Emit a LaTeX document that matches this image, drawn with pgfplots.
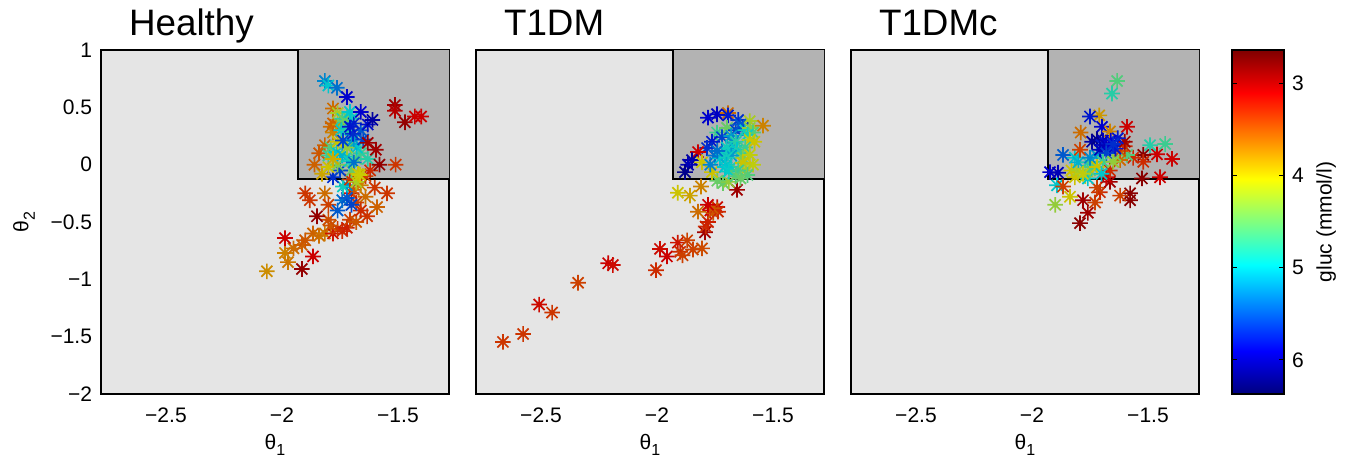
\documentclass[border=0pt]{standalone}
\usepackage{pgfplots}
\usepackage{pgfplotstable}
\pgfplotsset{compat=1.18}
\usepackage{fontspec}
\setmainfont{Liberation Sans}
\definecolor{bggray}{RGB}{229,229,229}
\definecolor{dkgray}{RGB}{179,179,179}
\pgfdeclareplotmark{mstar}{%
  \pgfpathmoveto{\pgfqpoint{-\pgfplotmarksize}{0pt}}%
  \pgfpathlineto{\pgfqpoint{\pgfplotmarksize}{0pt}}%
  \pgfpathmoveto{\pgfqpoint{0pt}{-\pgfplotmarksize}}%
  \pgfpathlineto{\pgfqpoint{0pt}{\pgfplotmarksize}}%
  \pgfpathmoveto{\pgfqpoint{-0.707\pgfplotmarksize}{-0.707\pgfplotmarksize}}%
  \pgfpathlineto{\pgfqpoint{0.707\pgfplotmarksize}{0.707\pgfplotmarksize}}%
  \pgfpathmoveto{\pgfqpoint{-0.707\pgfplotmarksize}{0.707\pgfplotmarksize}}%
  \pgfpathlineto{\pgfqpoint{0.707\pgfplotmarksize}{-0.707\pgfplotmarksize}}%
  \pgfusepathqstroke}

\pgfplotstableread{
x y g
-2.065 -0.93 3.75
-1.914 -0.91 2.85
-1.866 -0.80 3.1
-1.974 -0.85 3.65
-1.987 -0.77 3.7
-1.950 -0.73 3.6
-1.914 -0.70 3.55
-1.987 -0.64 3.1
-1.900 -0.66 3.5
-1.866 -0.60 3.55
-1.840 -0.62 3.6
-1.815 -0.60 3.65
-1.780 -0.60 3.2
-1.760 -0.56 3.35
-1.740 -0.58 3.3
-1.720 -0.55 3.25
-1.707 -0.48 3.4
-1.680 -0.50 3.5
-1.790 -0.53 3.5
-1.800 -0.48 3.45
-1.849 -0.45 2.85
-1.633 -0.45 3.35
-1.660 -0.40 3.3
-1.590 -0.37 3.55
-1.640 -0.28 3.6
-1.600 -0.20 3.35
-1.547 -0.25 3.35
-1.680 -0.33 3.4
-1.700 -0.25 3.2
-1.690 -0.22 3.5
-1.660 -0.18 3.7
-1.640 -0.10 3.4
-1.620 -0.05 3.3
-1.900 -0.25 3.35
-1.880 -0.31 3.35
-1.815 -0.25 3.6
-1.800 -0.35 3.4
-1.760 -0.40 5.5
-1.740 -0.31 5.4
-1.720 -0.29 5.5
-1.700 -0.35 5.6
-1.720 -0.18 5.3
-1.737 -0.19 4.9
-1.707 -0.13 3.35
-1.680 -0.15 4.2
-1.700 -0.05 4.5
-1.780 -0.11 5.7
-1.750 -0.05 5.6
-1.827 -0.08 3.85
-1.800 -0.02 4.0
-1.860 0.00 3.55
-1.840 0.10 3.5
-1.815 0.17 3.55
-1.790 0.15 4.6
-1.800 0.08 4.7
-1.760 0.00 4.4
-1.790 0.33 3.6
-1.780 0.28 3.7
-1.780 0.36 3.55
-1.780 0.49 3.6
-1.760 0.45 4.2
-1.750 0.35 3.8
-1.740 0.40 4.8
-1.720 0.42 4.6
-1.700 0.40 4.9
-1.730 0.38 4.5
-1.745 0.30 5.0
-1.720 0.30 4.8
-1.763 0.11 5.0
-1.720 0.07 4.9
-1.740 0.08 5.1
-1.710 0.03 4.9
-1.680 0.05 4.6
-1.660 0.10 4.7
-1.677 0.15 5.0
-1.700 0.18 5.1
-1.720 0.15 4.3
-1.760 0.20 4.0
-1.780 0.05 3.9
-1.690 0.02 5.4
-1.630 0.05 4.8
-1.737 0.21 5.6
-1.690 0.22 5.2
-1.650 0.22 5.6
-1.660 0.30 5.5
-1.694 0.27 5.7
-1.690 0.36 5.75
-1.707 0.33 5.8
-1.707 0.46 5.0
-1.660 0.46 5.9
-1.630 0.35 5.85
-1.610 0.39 6.1
-1.815 0.73 5.3
-1.800 0.69 5.0
-1.763 0.67 5.4
-1.720 0.59 5.9
-1.630 0.19 2.9
-1.595 0.13 2.9
-1.580 0.00 2.85
-1.510 0.00 3.35
-1.513 0.52 2.9
-1.513 0.47 3.0
-1.470 0.37 2.85
-1.427 0.42 3.1
-1.400 0.42 3.1
-1.672 -0.08 4.0
-1.664 -0.09 4.05
}\healthy

\pgfplotstableread{
x y g
-2.664 -1.546 3.35
-2.577 -1.477 3.35
-2.508 -1.220 3.15
-2.452 -1.290 3.35
-2.340 -1.030 3.4
-2.210 -0.860 3.1
-2.190 -0.875 3.15
-2.004 -0.920 3.3
-1.987 -0.735 3.15
-1.957 -0.800 3.1
-1.910 -0.680 3.2
-1.900 -0.760 3.3
-1.870 -0.660 3.4
-1.890 -0.790 3.4
-1.845 -0.740 3.4
-1.806 -0.730 3.45
-1.793 -0.590 2.9
-1.790 -0.540 3.3
-1.780 -0.500 3.25
-1.770 -0.400 3.1
-1.740 -0.370 3.15
-1.757 -0.420 3.5
-1.823 -0.410 3.6
-1.737 -0.410 3.3
-1.760 -0.380 3.5
-1.780 -0.350 3.1
-1.910 -0.245 4.0
-1.858 -0.270 3.85
-1.810 -0.190 3.7
-1.655 -0.220 2.9
-1.715 -0.160 4.5
-1.690 -0.150 4.3
-1.740 -0.140 4.5
-1.780 0.410 5.9
-1.741 0.440 5.95
-1.694 0.450 3.6
-1.694 0.430 5.8
-1.650 0.390 5.7
-1.600 0.380 4.2
-1.543 0.340 3.7
-1.630 0.320 5.7
-1.741 0.280 4.7
-1.698 0.320 4.5
-1.660 0.300 5.6
-1.640 0.350 5.5
-1.620 0.300 4.9
-1.600 0.320 4.3
-1.586 0.280 4.6
-1.610 0.260 4.9
-1.600 0.215 4.1
-1.580 0.200 4.0
-1.720 0.240 5.6
-1.680 0.250 5.2
-1.672 0.190 5.3
-1.660 0.200 4.8
-1.763 0.200 5.8
-1.784 0.145 5.7
-1.823 0.110 3.1
-1.849 0.040 6.1
-1.866 0.000 6.0
-1.879 -0.065 6.2
-1.806 0.020 4.0
-1.763 -0.065 4.0
-1.770 0.000 5.3
-1.750 0.080 5.4
-1.728 0.055 5.0
-1.720 0.100 5.1
-1.700 0.150 4.9
-1.698 0.110 4.9
-1.655 0.130 5.0
-1.640 0.100 4.8
-1.620 0.150 4.7
-1.680 0.080 5.2
-1.740 0.120 5.4
-1.700 0.060 4.9
-1.700 0.000 5.1
-1.680 -0.020 4.9
-1.630 0.060 4.4
-1.600 0.085 4.1
-1.586 0.000 4.1
-1.630 0.014 4.0
-1.620 -0.050 4.2
-1.707 -0.020 5.0
-1.690 -0.060 4.95
-1.650 -0.050 4.7
-1.660 -0.100 4.6
-1.610 -0.090 4.6
-1.640 -0.120 4.5
}\tdm

\pgfplotstableread{
x y g
-1.633 0.73 4.6
-1.655 0.62 4.8
-1.793 -0.51 2.8
-1.759 -0.42 2.9
-1.780 -0.31 2.9
-1.728 -0.33 3.4
-1.577 -0.25 2.8
-1.577 -0.31 2.8
-1.620 -0.27 3.4
-1.900 -0.35 4.3
-1.836 -0.28 4.0
-1.707 -0.24 3.3
-1.720 -0.20 3.4
-1.664 -0.15 2.9
-1.680 -0.11 3.1
-1.664 -0.05 3.3
-1.526 -0.12 2.8
-1.448 -0.11 3.1
-1.396 0.05 3.1
-1.461 0.09 3.1
-1.426 0.18 4.7
-1.491 0.17 4.8
-1.520 0.085 2.8
-1.520 0.025 3.3
-1.564 0.06 3.3
-1.590 0.085 4.6
-1.620 0.04 3.6
-1.640 0.08 4.5
-1.620 0.12 3.5
-1.600 0.16 3.3
-1.600 0.20 2.9
-1.590 0.33 3.1
-1.922 -0.065 5.9
-1.888 -0.07 6.0
-1.892 -0.18 5.0
-1.866 -0.19 3.4
-1.815 -0.11 4.0
-1.830 -0.05 4.0
-1.800 -0.05 4.2
-1.770 -0.10 4.2
-1.759 -0.12 5.0
-1.750 -0.05 4.5
-1.866 0.085 5.5
-1.815 0.06 5.0
-1.800 0.02 5.1
-1.760 0.02 4.8
-1.740 -0.02 4.6
-1.750 0.06 5.3
-1.720 0.08 5.2
-1.793 0.13 3.4
-1.790 0.28 3.6
-1.710 0.43 3.8
-1.750 0.42 5.8
-1.698 0.33 5.9
-1.664 0.29 3.7
-1.630 0.23 5.8
-1.741 0.20 6.1
-1.720 0.22 6.2
-1.694 0.21 6.0
-1.700 0.17 5.8
-1.680 0.17 6.0
-1.660 0.21 5.9
-1.664 0.145 5.9
-1.640 0.14 5.8
-1.707 0.13 6.0
-1.680 0.10 5.6
-1.650 0.18 5.7
-1.694 0.025 4.7
-1.650 0.025 4.3
-1.720 -0.02 4.0
-1.780 -0.08 4.1
-1.700 -0.08 5.0
}\tdmc

\pgfplotsset{
  panel/.style={
    scale only axis, width=174bp, height=172bp,
    xmin=-2.78, xmax=-1.28, ymin=-2, ymax=1,
    axis background/.style={fill=bggray},
    axis line style={line width=0.75bp},
    xtick={-2.5,-2,-1.5}, xticklabels={−2.5,−2,−1.5},
    ytick={-2,-1.5,-1,-0.5,0,0.5,1},
    major tick length=0pt,
    tick label style={font=\fontsize{10.5bp}{12bp}\selectfont},
    xticklabel style={yshift=-3.5bp},
    yticklabel style={xshift=-1bp},
    xlabel={θ\raisebox{-0.6ex}{\fontsize{8bp}{9bp}\selectfont 1}},
    xlabel style={at={(axis description cs:0.5,-0.148)}, anchor=center, font=\fontsize{10.5bp}{12bp}\selectfont},
    title style={at={(axis description cs:0.0603,1.006)}, anchor=base west, yshift=0pt, font=\fontsize{18.4bp}{21bp}\selectfont},
    colormap={revjet}{rgb=(0.5,0,0) rgb=(1,0,0) rgb=(1,0.5,0) rgb=(1,1,0) rgb=(0.5,1,0.5) rgb=(0,1,1) rgb=(0,0.5,1) rgb=(0,0,1) rgb=(0,0,0.5)},
    point meta min=2.64, point meta max=6.37,
  },
  region/.style={draw=black, line width=0.75bp, fill=dkgray},
  pts/.style={scatter, only marks, mark=mstar, mark size=3.9bp, line width=0.85bp, point meta=explicit},
}

\begin{document}
\begin{tikzpicture}
\path[use as bounding box] (0,0) rectangle (674.5bp,230bp);

\begin{axis}[panel, at={(50.5bp,33bp)}, anchor=south west,
  title={Healthy},
  yticklabels={−2,−1.5,−1,−0.5,0,0.5,1},
  ylabel={θ\raisebox{-0.6ex}{\fontsize{8bp}{9bp}\selectfont 2}},
  ylabel style={at={(axis description cs:-0.2213,0.5)}, anchor=center, font=\fontsize{10.5bp}{12bp}\selectfont}]
\addplot[region] coordinates {(-1.93,1.3) (-1.93,-0.125) (-1.1,-0.125) (-1.1,1.3) (-1.93,1.3)};
\addplot[pts] table[x=x,y=y,meta=g] {\healthy};
\end{axis}

\begin{axis}[panel, at={(238bp,33bp)}, anchor=south west,
  title={T1DM}, yticklabels={}]
\addplot[region] coordinates {(-1.93,1.3) (-1.93,-0.125) (-1.1,-0.125) (-1.1,1.3) (-1.93,1.3)};
\addplot[pts] table[x=x,y=y,meta=g] {\tdm};
\end{axis}

\begin{axis}[panel, at={(425.5bp,33bp)}, anchor=south west,
  title={T1DMc}, yticklabels={},
  colorbar,
  colorbar/width=26bp,
  colorbar shift/.style={xshift=16.5bp},
  colorbar style={
    at={(parent axis.north east)}, anchor=north west,
    scale only axis, width=26bp, height=172bp,
    y dir=reverse,
    ytick={3,4,5,6}, yticklabels={3,4,5,6},
    ytick pos=both, yticklabel pos=right,
    tick align=inside, major tick length=2.5bp,
    ytick style={line width=0.5bp, black},
    axis line style={line width=0.75bp},
    yticklabel style={font=\fontsize{10.5bp}{12bp}\selectfont, xshift=0.5bp},
    extra description/.code={\node[rotate=90, anchor=center, font=\fontsize{10.5bp}{12bp}\selectfont] at (axis description cs:1.81,0.5) {gluc (mmol/l)};},
  }]
\addplot[region] coordinates {(-1.93,1.3) (-1.93,-0.125) (-1.1,-0.125) (-1.1,1.3) (-1.93,1.3)};
\addplot[pts] table[x=x,y=y,meta=g] {\tdmc};
\end{axis}
\end{tikzpicture}
\end{document}
